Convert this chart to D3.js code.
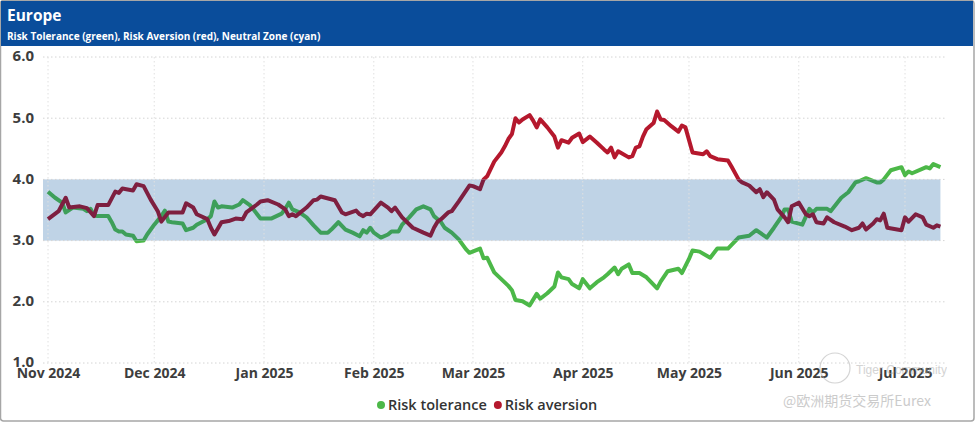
<!DOCTYPE html>
<html><head><meta charset="utf-8">
<script src="https://cdn.jsdelivr.net/npm/d3@7"></script>
<style>
body{margin:0;background:#fff;}
svg{display:block;font-family:"Open Sans",sans-serif;}
</style></head>
<body>
<svg id="chart" width="975" height="423"></svg>
<script>
const titleText = "Europe";
const subtitleText = "Risk Tolerance (green), Risk Aversion (red), Neutral Zone (cyan)";
const yTicks = [1, 2, 3, 4, 5, 6];
const monthTicks = ["2024-11-01","2024-12-01","2025-01-01","2025-02-01","2025-03-01","2025-04-01","2025-05-01","2025-06-01","2025-07-01"];
const neutralZone = [3, 4];
const seriesNames = ["Risk tolerance", "Risk aversion"];

const toleranceDates = ["2024-11-01","2024-11-03","2024-11-05","2024-11-06","2024-11-08","2024-11-11","2024-11-12","2024-11-13","2024-11-14","2024-11-15","2024-11-18","2024-11-19","2024-11-20","2024-11-21","2024-11-22","2024-11-23","2024-11-25","2024-11-26","2024-11-28","2024-11-29","2024-12-01","2024-12-03","2024-12-04","2024-12-05","2024-12-06","2024-12-09","2024-12-10","2024-12-12","2024-12-13","2024-12-16","2024-12-17","2024-12-18","2024-12-19","2024-12-20","2024-12-23","2024-12-25","2024-12-26","2024-12-28","2024-12-29","2024-12-31","2025-01-03","2025-01-06","2025-01-07","2025-01-08","2025-01-09","2025-01-11","2025-01-13","2025-01-15","2025-01-17","2025-01-19","2025-01-20","2025-01-22","2025-01-24","2025-01-26","2025-01-28","2025-01-29","2025-01-30","2025-01-31","2025-02-01","2025-02-03","2025-02-05","2025-02-06","2025-02-08","2025-02-09","2025-02-11","2025-02-13","2025-02-15","2025-02-17","2025-02-18","2025-02-20","2025-02-21","2025-02-23","2025-02-25","2025-02-27","2025-02-28","2025-03-03","2025-03-04","2025-03-05","2025-03-07","2025-03-09","2025-03-11","2025-03-12","2025-03-13","2025-03-15","2025-03-17","2025-03-19","2025-03-20","2025-03-22","2025-03-24","2025-03-25","2025-03-26","2025-03-28","2025-03-29","2025-03-31","2025-04-01","2025-04-03","2025-04-05","2025-04-07","2025-04-08","2025-04-10","2025-04-11","2025-04-12","2025-04-14","2025-04-15","2025-04-17","2025-04-19","2025-04-22","2025-04-23","2025-04-25","2025-04-28","2025-04-29","2025-05-01","2025-05-02","2025-05-04","2025-05-07","2025-05-09","2025-05-12","2025-05-15","2025-05-18","2025-05-20","2025-05-23","2025-05-25","2025-05-27","2025-05-28","2025-05-29","2025-05-30","2025-06-02","2025-06-04","2025-06-05","2025-06-06","2025-06-09","2025-06-10","2025-06-13","2025-06-15","2025-06-17","2025-06-18","2025-06-20","2025-06-23","2025-06-24","2025-06-25","2025-06-27","2025-06-30","2025-07-01","2025-07-02","2025-07-03","2025-07-07","2025-07-08","2025-07-09","2025-07-11"];
const toleranceValues = [3.80,3.70,3.62,3.46,3.54,3.52,3.48,3.52,3.41,3.40,3.40,3.30,3.18,3.15,3.15,3.10,3.08,2.99,3.00,3.10,3.26,3.40,3.49,3.31,3.30,3.28,3.17,3.21,3.26,3.35,3.40,3.64,3.54,3.56,3.54,3.59,3.66,3.58,3.51,3.36,3.36,3.44,3.52,3.62,3.51,3.46,3.38,3.25,3.13,3.13,3.18,3.30,3.18,3.13,3.07,3.17,3.13,3.21,3.13,3.05,3.10,3.15,3.15,3.26,3.38,3.51,3.56,3.51,3.40,3.30,3.21,3.13,3.02,2.86,2.80,2.87,2.71,2.72,2.48,2.37,2.26,2.19,2.03,2.01,1.94,2.13,2.05,2.14,2.25,2.48,2.40,2.37,2.29,2.22,2.37,2.22,2.32,2.40,2.45,2.56,2.45,2.54,2.61,2.47,2.47,2.40,2.22,2.33,2.50,2.54,2.47,2.70,2.84,2.82,2.72,2.87,2.87,3.05,3.08,3.17,3.05,3.21,3.38,3.51,3.51,3.31,3.26,3.52,3.46,3.52,3.52,3.48,3.70,3.79,3.95,3.97,4.02,3.95,3.95,4.00,4.15,4.20,4.07,4.13,4.10,4.20,4.18,4.25,4.20];

const aversionDates = ["2024-11-01","2024-11-04","2024-11-06","2024-11-07","2024-11-10","2024-11-12","2024-11-14","2024-11-15","2024-11-18","2024-11-20","2024-11-21","2024-11-22","2024-11-25","2024-11-26","2024-11-28","2024-11-30","2024-12-02","2024-12-03","2024-12-05","2024-12-09","2024-12-10","2024-12-12","2024-12-13","2024-12-16","2024-12-17","2024-12-18","2024-12-20","2024-12-22","2024-12-24","2024-12-26","2024-12-27","2024-12-30","2024-12-31","2025-01-02","2025-01-05","2025-01-07","2025-01-08","2025-01-09","2025-01-10","2025-01-13","2025-01-15","2025-01-16","2025-01-17","2025-01-21","2025-01-23","2025-01-24","2025-01-27","2025-01-28","2025-01-29","2025-01-30","2025-01-31","2025-02-03","2025-02-05","2025-02-06","2025-02-07","2025-02-09","2025-02-12","2025-02-15","2025-02-17","2025-02-18","2025-02-19","2025-02-20","2025-02-22","2025-02-23","2025-02-25","2025-02-28","2025-03-01","2025-03-03","2025-03-04","2025-03-05","2025-03-07","2025-03-09","2025-03-10","2025-03-11","2025-03-12","2025-03-13","2025-03-14","2025-03-15","2025-03-17","2025-03-18","2025-03-19","2025-03-20","2025-03-22","2025-03-24","2025-03-25","2025-03-26","2025-03-28","2025-03-29","2025-03-31","2025-04-01","2025-04-03","2025-04-05","2025-04-07","2025-04-08","2025-04-09","2025-04-10","2025-04-11","2025-04-14","2025-04-15","2025-04-16","2025-04-17","2025-04-18","2025-04-19","2025-04-21","2025-04-22","2025-04-23","2025-04-24","2025-04-26","2025-04-28","2025-04-29","2025-04-30","2025-05-02","2025-05-05","2025-05-06","2025-05-07","2025-05-09","2025-05-12","2025-05-13","2025-05-15","2025-05-16","2025-05-18","2025-05-20","2025-05-21","2025-05-22","2025-05-23","2025-05-25","2025-05-26","2025-05-28","2025-05-29","2025-05-30","2025-05-31","2025-06-01","2025-06-03","2025-06-04","2025-06-05","2025-06-06","2025-06-08","2025-06-09","2025-06-11","2025-06-14","2025-06-16","2025-06-18","2025-06-19","2025-06-20","2025-06-22","2025-06-23","2025-06-24","2025-06-25","2025-06-26","2025-06-30","2025-07-01","2025-07-02","2025-07-04","2025-07-06","2025-07-07","2025-07-09","2025-07-10","2025-07-11"];
const aversionValues = [3.35,3.48,3.70,3.54,3.56,3.53,3.40,3.58,3.58,3.80,3.78,3.85,3.82,3.92,3.89,3.67,3.48,3.31,3.46,3.46,3.61,3.54,3.43,3.35,3.21,3.10,3.30,3.32,3.36,3.35,3.46,3.59,3.64,3.66,3.59,3.51,3.40,3.43,3.40,3.54,3.66,3.67,3.72,3.66,3.46,3.43,3.49,3.43,3.40,3.44,3.43,3.62,3.54,3.48,3.54,3.38,3.21,3.13,3.08,3.21,3.31,3.35,3.46,3.48,3.64,3.90,3.89,3.84,4.00,4.05,4.29,4.44,4.54,4.66,4.74,5.00,4.93,4.98,5.05,4.96,4.85,4.98,4.85,4.70,4.52,4.64,4.60,4.68,4.75,4.61,4.70,4.60,4.49,4.44,4.52,4.36,4.46,4.36,4.38,4.52,4.54,4.70,4.82,4.92,5.11,4.98,4.97,4.87,4.78,4.88,4.85,4.44,4.41,4.46,4.38,4.33,4.31,4.21,4.00,3.95,3.90,3.79,3.84,3.71,3.79,3.67,3.51,3.38,3.30,3.56,3.59,3.62,3.43,3.40,3.43,3.30,3.28,3.38,3.30,3.23,3.17,3.21,3.28,3.18,3.28,3.35,3.33,3.44,3.21,3.17,3.38,3.31,3.43,3.38,3.26,3.21,3.25,3.23];

const parse = d3.utcParse("%Y-%m-%d");
const W = 975, H = 423;
const svg = d3.select("#chart");

// frame
svg.append("rect").attr("x",0.5).attr("y",0.5).attr("width",W-1.5).attr("height",H-2.5)
  .attr("fill","#fff").attr("stroke","#a6a6a6").attr("stroke-width",1.5).attr("rx",3);
svg.append("rect").attr("x",1).attr("y",1).attr("width",W-3).attr("height",45).attr("fill","#0a4d9b");
svg.append("text").attr("x",7).attr("y",21).attr("fill","#fff").attr("font-size",15.5).attr("font-weight",700).text(titleText);
svg.append("text").attr("x",7).attr("y",40).attr("fill","#fff").attr("font-size",10).attr("font-weight",700).text(subtitleText);

const x = d3.scaleUtc().domain([parse(monthTicks[0]), parse(monthTicks[monthTicks.length-1])]).range([48, 905]);
const y = d3.scaleLinear().domain([1, 6]).range([363, 57]);
const plotL = 43, plotR = 945;

const tol = toleranceDates.map((d,i)=>({date:parse(d), v:toleranceValues[i]}));
const av = aversionDates.map((d,i)=>({date:parse(d), v:aversionValues[i]}));
const lastDate = d3.max([...tol, ...av], d=>d.date);

// neutral zone band
svg.append("rect").attr("x",plotL).attr("width",x(lastDate)-plotL)
  .attr("y",y(neutralZone[1])).attr("height",y(neutralZone[0])-y(neutralZone[1]))
  .attr("fill","#bfd3e6");

// gridlines
svg.append("g").selectAll("line").data(yTicks).join("line")
  .attr("x1",plotL).attr("x2",plotR).attr("y1",d=>y(d)).attr("y2",d=>y(d))
  .attr("stroke","#d4d4d4").attr("stroke-width",1).attr("stroke-dasharray","1.5,2.5");
svg.append("g").selectAll("line").data(monthTicks).join("line")
  .attr("x1",d=>x(parse(d))).attr("x2",d=>x(parse(d))).attr("y1",y(6)).attr("y2",y(1))
  .attr("stroke","#e0e0e0").attr("stroke-width",1).attr("stroke-dasharray","1.5,2.5");

// axes text
const yAxis = d3.axisLeft(y).tickValues(yTicks).tickFormat(d3.format(".1f")).tickSize(0).tickPadding(0);
const gy = svg.append("g").attr("transform","translate(34,-1)").call(yAxis);
gy.select(".domain").remove();
gy.selectAll("text").attr("font-size",15).attr("font-weight",700).attr("fill","#3d3d3d").attr("font-family","Open Sans, sans-serif");

const xAxis = d3.axisBottom(x).tickValues(monthTicks.map(parse)).tickFormat(d3.utcFormat("%b %Y")).tickSize(0).tickPadding(0);
const gx = svg.append("g").attr("transform","translate(0,368)").call(xAxis);
gx.select(".domain").remove();
gx.selectAll("text").attr("font-size",14).attr("font-weight",700).attr("fill","#3d3d3d").attr("font-family","Open Sans, sans-serif");

// lines
const line = d3.line().x(d=>x(d.date)).y(d=>y(d.v)).curve(d3.curveLinear);
const defs = svg.append("defs");
defs.append("clipPath").attr("id","zoneClip").append("rect")
  .attr("x",0).attr("width",W).attr("y",y(neutralZone[1])).attr("height",y(neutralZone[0])-y(neutralZone[1]));
defs.append("clipPath").attr("id","outClip").append("path")
  .attr("d",`M0,0H${W}V${y(neutralZone[1])}H0Z M0,${y(neutralZone[0])}H${W}V${H}H0Z`);

const series = [
  {data:tol, out:"#4cb848", inz:"#3e9f5a"},
  {data:av, out:"#b5182d", inz:"#7e1f40"}
];
series.forEach(s=>{
  svg.append("path").datum(s.data).attr("d",line).attr("fill","none").attr("stroke",s.out)
    .attr("stroke-width",4).attr("stroke-linejoin","round").attr("clip-path","url(#outClip)");
  svg.append("path").datum(s.data).attr("d",line).attr("fill","none").attr("stroke",s.inz)
    .attr("stroke-width",4).attr("stroke-linejoin","round").attr("clip-path","url(#zoneClip)");
});

// legend
const legColors = ["#4cb848","#b5182d"];
const leg = svg.append("g").attr("transform","translate(0,405)");
const legFont = 14.5;
let cx = 377;
seriesNames.forEach((n,i)=>{
  leg.append("circle").attr("cx",cx+4).attr("cy",0).attr("r",4).attr("fill",legColors[i]);
  const t = leg.append("text").attr("x",cx+11).attr("y",5).attr("font-size",legFont).attr("font-weight",600)
    .attr("fill","#333").text(n);
  cx += 11 + t.node().getComputedTextLength() + 7;
});

// watermark
const wm = svg.append("g").attr("opacity",0.5);
wm.append("circle").attr("cx",835).attr("cy",368).attr("r",15).attr("fill","none").attr("stroke","#aaa").attr("stroke-width",1.2);
wm.append("text").attr("x",856).attr("y",374).attr("font-size",12).attr("fill","#aaa").attr("font-family","Liberation Sans Narrow, Liberation Sans, sans-serif").text("Tiger Community");
wm.append("text").attr("x",783).attr("y",406).attr("font-size",14).attr("fill","#999").attr("font-family","Noto Sans CJK SC, sans-serif").text("@欧洲期货交易所Eurex");
</script>
</body></html>
